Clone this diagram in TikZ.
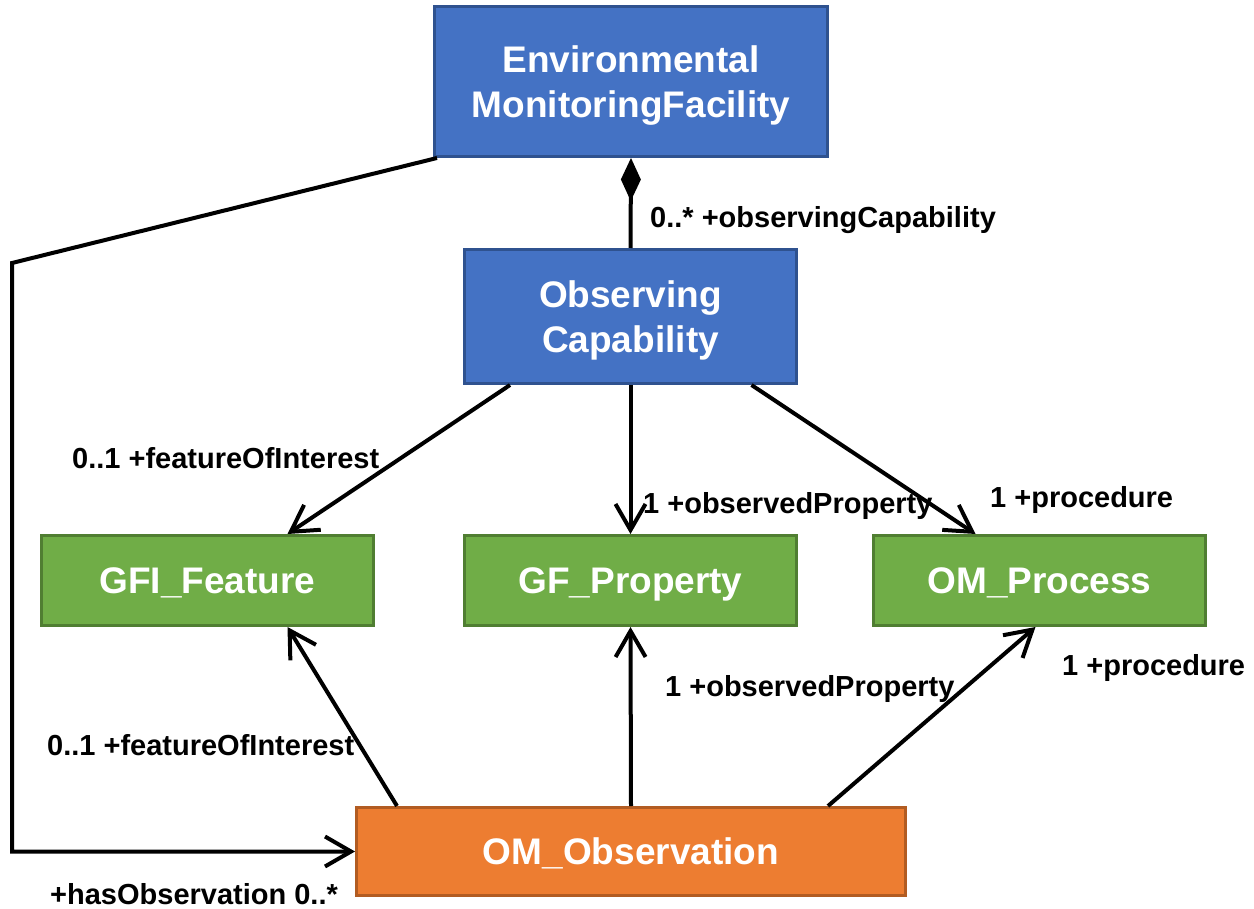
\documentclass[tikz,border=0pt]{standalone}
\usepackage{fontspec}
\setmainfont{Liberation Sans}
\usetikzlibrary{arrows.meta}

\definecolor{umlblue}{HTML}{4472C4}
\definecolor{umlblueline}{HTML}{2F528F}
\definecolor{umlgreen}{HTML}{70AD47}
\definecolor{umlgreenline}{HTML}{507E32}
\definecolor{umlorange}{HTML}{ED7D31}
\definecolor{umlorangeline}{HTML}{B25C22}

\newcommand{\twolines}[2]{\raisebox{-5pt}[\height][\depth]{\begin{tabular}{@{}c@{}}#1\\#2\end{tabular}}}

\tikzset{
    klass/.style={draw, line width=3pt, inner sep=0pt, text=white, align=center,
        minimum width=332pt, minimum height=90pt,
        font=\fontsize{37}{45}\selectfont\bfseries},
    bluebox/.style={klass, fill=umlblue, draw=umlblueline},
    greenbox/.style={klass, fill=umlgreen, draw=umlgreenline, text depth=0pt},
    orangebox/.style={klass, fill=umlorange, draw=umlorangeline, text depth=0pt},
    assoc/.style={line width=4pt, -{Straight Barb[length=26pt,width=30pt]}},
    compos/.style={line width=4pt, -{Diamond[length=43pt,width=20pt]}},
    role/.style={anchor=base west, inner sep=0pt,
        font=\fontsize{29}{34}\selectfont\bfseries},
}

\begin{document}
\begin{tikzpicture}[x=1pt,y=-1pt]
        \useasboundingbox (0,0) rectangle (1254,909);

        % classes
        \node[bluebox, minimum width=393pt, minimum height=150pt] (emf) at (631,81.5)
            {\twolines{Environmental}{MonitoringFacility}};
        \node[bluebox, minimum height=134pt] (capab) at (630.5,316.5)
            {\twolines{Observing}{Capability}};
        \node[greenbox] (feature) at (207.5,580.5) {GFI\_Feature};
        \node[greenbox] (property) at (630.5,580.5) {GF\_Property};
        \node[greenbox] (process) at (1039.5,580.5) {OM\_Process};
        \node[orangebox, minimum width=549pt, minimum height=88pt] (obs) at (631,851.5)
            {OM\_Observation};

        % composition
        \draw[compos] (capab.north) -- (emf.south);
        \node[role] (capabrole) at (650,228) {0..* +observingCapability};

        % observing capability associations
        \draw[assoc] ([xshift=47]capab.south west) -- ([xshift=80]feature.north);
        \draw[assoc] (capab.south) -- (property.north);
        \draw[assoc] ([xshift=121]capab.south) -- ([xshift=-64]process.north);
        \node[role] (foi1) at (72,468) {0..1 +featureOfInterest};
        \node[role] (prop1) at (643,513) {1 +observedProperty};
        \node[role] (proc1) at (990,507) {1 +procedure};

        % observation associations
        \draw[assoc] ([xshift=42]obs.north west) -- ([xshift=80]feature.south);
        \draw[assoc] (obs.north) -- (property.south);
        \draw[assoc] ([xshift=197]obs.north) -- ([xshift=-4]process.south);
        \node[role] (foi2) at (47,755) {0..1 +featureOfInterest};
        \node[role] (prop2) at (665,696) {1 +observedProperty};
        \node[role] (proc2) at (1062,675) {1 +procedure};

        % facility to observation
        \coordinate (bendA) at (12,263);
        \draw[assoc] ([xshift=4]emf.south west) -- (bendA) -- (bendA |- obs.west) -- (obs.west);
        \node[role] (hasobs) at (50,904) {+hasObservation 0..*};
\end{tikzpicture}
\end{document}
